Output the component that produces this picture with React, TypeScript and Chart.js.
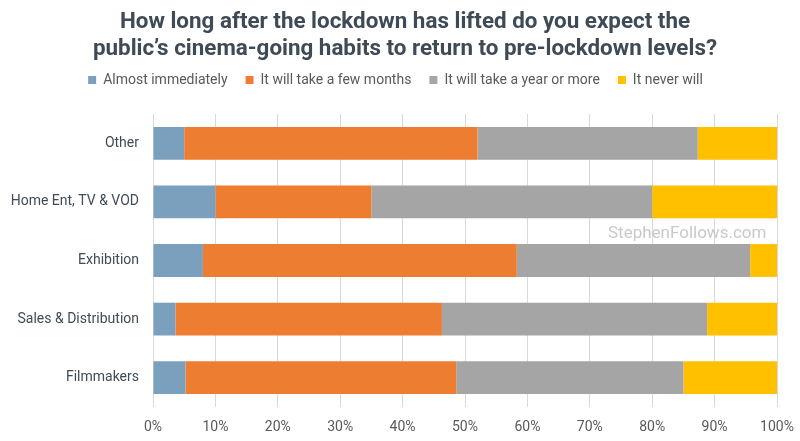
import { useEffect, useRef } from "react";
import { Chart, registerables } from "chart.js";

Chart.register(...registerables);

const categories = ["Other", "Home Ent, TV & VOD", "Exhibition", "Sales & Distribution", "Filmmakers"];
const seriesLabels = ["Almost immediately", "It will take a few months", "It will take a year or more", "It never will"];
const almostImmediately = [5.0, 10.0, 8.0, 3.6, 5.2];
const fewMonths = [47.0, 25.0, 50.3, 42.7, 43.4];
const yearOrMore = [35.3, 45.0, 37.4, 42.5, 36.4];
const neverWill = [12.7, 20.0, 4.3, 11.2, 15.0];

const COLORS = ["#7aa0be", "#ed7d31", "#a5a5a5", "#ffc000"];
const FONT = "Roboto, 'Noto Sans', sans-serif";

// make the legend box taller so the plot starts lower, and nudge it right a bit
const legendSpacer = {
  id: "legendSpacer",
  beforeInit(chart: any) {
    const fit = chart.legend.fit;
    chart.legend.fit = function () {
      fit.call(this);
      this.height += 17;
    };
  },
  afterLayout(chart: any) {
    chart.legend.left += 7;
    chart.legend.right += 7;
  },
};

export default function App() {
  const canvasRef = useRef<HTMLCanvasElement>(null);

  useEffect(() => {
    const canvas = canvasRef.current;
    if (!canvas) return;
    const values = [almostImmediately, fewMonths, yearOrMore, neverWill];

    const chart = new Chart(canvas, {
      type: "bar",
      data: {
        labels: categories,
        datasets: values.map((data, i) => ({
          label: seriesLabels[i],
          data,
          backgroundColor: COLORS[i],
          borderWidth: 0,
          barPercentage: 1,
          categoryPercentage: 0.56,
        })),
      },
      options: {
        indexAxis: "y",
        responsive: false,
        animation: false,
        layout: { padding: { top: 55, right: 23, bottom: 0, left: 0 } },
        plugins: {
          title: { display: false },
          tooltip: { enabled: false },
          legend: {
            position: "top",
            labels: {
              boxWidth: 8,
              boxHeight: 8,
              padding: 18,
              color: "#595959",
              font: { family: FONT, size: 14 },
            },
          },
        },
        scales: {
          x: {
            stacked: true,
            min: 0,
            max: 100,
            grid: { color: "#d9d9d9", drawTicks: false },
            border: { display: false },
            ticks: {
              stepSize: 10,
              padding: 12,
              color: "#595959",
              font: { family: FONT, size: 14 },
              callback: (v: any) => v + "%",
            },
            afterFit: (s: any) => {
              s.height = 34;
              s.paddingLeft = 0;
              s.paddingRight = 0;
            },
          },
          y: {
            stacked: true,
            grid: { display: false },
            border: { display: false },
            ticks: {
              padding: 6,
              color: "#404b56",
              font: { family: FONT, size: 14 },
            },
            afterFit: (s: any) => {
              s.width = 153;
            },
          },
        },
      },
      plugins: [legendSpacer],
    });

    return () => chart.destroy();
  }, []);

  return (
    <div style={{ position: "absolute", left: 0, top: 0, width: 800, height: 441, background: "#fff", overflow: "hidden" }}>
      <canvas ref={canvasRef} width={800} height={441} style={{ position: "absolute", left: 0, top: 0 }} />
      <div
        style={{
          position: "absolute",
          left: 5,
          top: 7,
          width: 800,
          textAlign: "center",
          fontFamily: FONT,
          fontWeight: 700,
          fontSize: 22.4,
          lineHeight: "27px",
          color: "#3e4a56",
        }}
      >
        How long after the lockdown has lifted do you expect the
        <br />
        public’s cinema-going habits to return to pre-lockdown levels?
      </div>
      <div
        style={{
          position: "absolute",
          left: 608,
          top: 222,
          fontFamily: FONT,
          fontSize: 17,
          color: "#c9c9c9",
        }}
      >
        StephenFollows.com
      </div>
    </div>
  );
}
